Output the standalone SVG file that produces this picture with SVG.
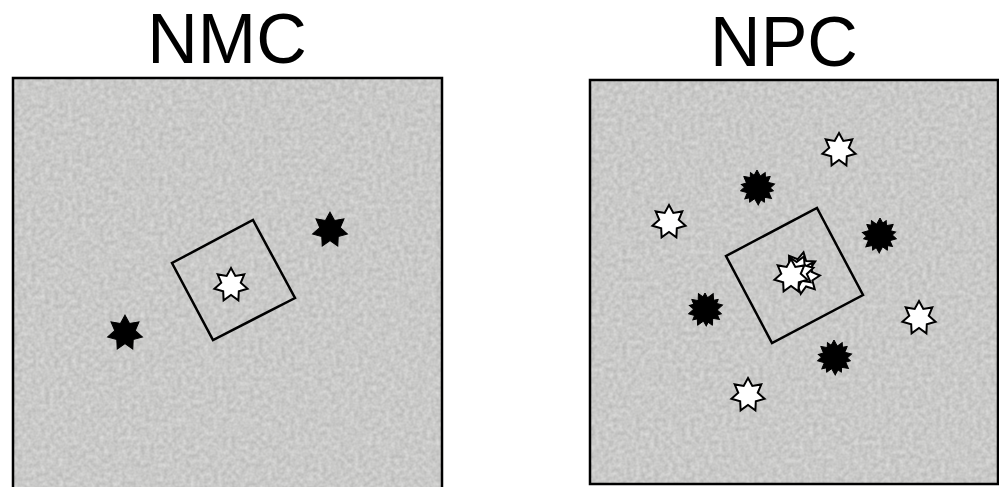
<svg xmlns="http://www.w3.org/2000/svg" xmlns:xlink="http://www.w3.org/1999/xlink" width="999" height="487" viewBox="0 0 999 487">
<style>
.title{font-family:"Liberation Sans",Arial,sans-serif;font-size:70px;fill:#000;text-anchor:middle}
.frame{fill:none;stroke:#000;stroke-width:2.5}
.box{fill:none;stroke:#000;stroke-width:2.5}
.ws{fill:#fff;stroke:#000;stroke-width:2;stroke-linejoin:miter}
.bs{fill:#000;stroke:#000;stroke-width:1}
</style>
<defs>
<path id="star" d="M0,-17 L4.34,-9.01 L13.29,-10.6 L9.75,-2.23 L16.57,3.78 L7.82,6.23 L7.38,15.32 L0,10 L-7.38,15.32 L-7.82,6.23 L-16.57,3.78 L-9.75,-2.23 L-13.29,-10.6 L-4.34,-9.01 Z"/>
<filter id="noise" filterUnits="objectBoundingBox" x="0" y="0" width="1" height="1" color-interpolation-filters="sRGB">
<feTurbulence type="fractalNoise" baseFrequency="0.22" numOctaves="2" seed="4" result="t"/>
<feColorMatrix in="t" type="matrix" values="0.18 0 0 0 0.70  0.18 0 0 0 0.70  0.18 0 0 0 0.695  0 0 0 0 1" result="g"/>
<feComposite in="g" in2="SourceGraphic" operator="in"/>
</filter>
</defs>
<text class="title" x="227" y="63">NMC</text>
<text class="title" x="784" y="66">NPC</text>
<g id="panel-nmc">
<rect x="13" y="78" width="429" height="420" fill="#c3c3c1" filter="url(#noise)"/>
<rect class="frame" x="13" y="78" width="429" height="420"/>
<g id="nmc-box"><polygon class="box" points="253,220 295,298 213,340 172,263"/></g>
<g id="nmc-w1"><use href="#star" class="ws" transform="translate(231,285)"/></g>
<g id="nmc-b1"><use href="#star" class="bs" transform="translate(330,230) scale(1.05)"/></g>
<g id="nmc-b2"><use href="#star" class="bs" transform="translate(125,333) scale(1.05)"/></g>
</g>
<g id="panel-npc">
<rect x="590" y="80" width="408" height="404" fill="#c3c3c1" filter="url(#noise)"/>
<rect class="frame" x="590" y="80" width="408" height="404"/>
<g id="npc-box"><polygon class="box" points="817,208 863,295 772,343 726,256"/></g>
<g id="npc-center">
<use href="#star" class="ws" transform="translate(800,269) rotate(12)"/>
<use href="#star" class="ws" transform="translate(803,277) rotate(-18)"/>
<use href="#star" class="ws" transform="translate(797,272) rotate(24)"/>
<use href="#star" class="ws" transform="translate(791,276)"/>
</g>
<g id="npc-w1"><use href="#star" class="ws" transform="translate(839,150)"/></g>
<g id="npc-w2"><use href="#star" class="ws" transform="translate(669,222)"/></g>
<g id="npc-w3"><use href="#star" class="ws" transform="translate(919,318)"/></g>
<g id="npc-w4"><use href="#star" class="ws" transform="translate(748,395)"/></g>
<g id="npc-b1"><use href="#star" class="bs" transform="translate(757,187)"/><use href="#star" class="bs" transform="translate(758,188) rotate(25)"/></g>
<g id="npc-b2"><use href="#star" class="bs" transform="translate(880,235)"/><use href="#star" class="bs" transform="translate(879,236) rotate(25)"/></g>
<g id="npc-b3"><use href="#star" class="bs" transform="translate(705,310)"/><use href="#star" class="bs" transform="translate(706,309) rotate(25)"/></g>
<g id="npc-b4"><use href="#star" class="bs" transform="translate(834,357)"/><use href="#star" class="bs" transform="translate(835,358) rotate(25)"/></g>
</g>
</svg>
